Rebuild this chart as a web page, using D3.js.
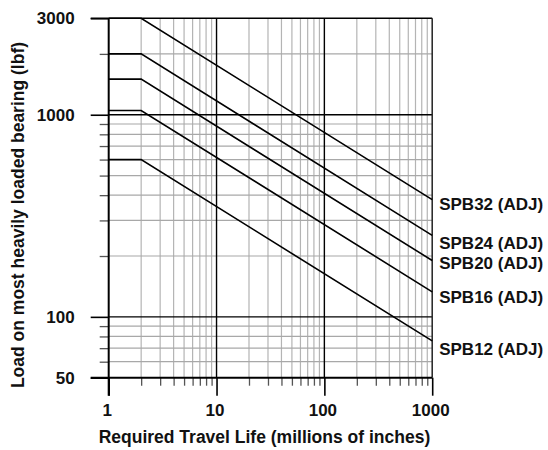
<!DOCTYPE html>
<html>
<head>
<meta charset="utf-8">
<script src="https://cdn.jsdelivr.net/npm/d3@7"></script>
<style>
  html, body { margin: 0; padding: 0; background: #fff; }
  svg { display: block; }
  text { font-family: "Liberation Sans", Arial, sans-serif; font-weight: bold; fill: #111; }
</style>
</head>
<body>
<svg id="chart" width="548" height="450"></svg>
<script>
// ---- data ----
const seriesNames = ["SPB32 (ADJ)", "SPB24 (ADJ)", "SPB20 (ADJ)", "SPB16 (ADJ)", "SPB12 (ADJ)"];
const travelLife = [1, 2, 1000];            // millions of inches
const loadSPB32 = [3000, 3000, 380];        // lbf
const loadSPB24 = [2000, 2000, 253];
const loadSPB20 = [1500, 1500, 190];
const loadSPB16 = [1050, 1050, 133];
const loadSPB12 = [600, 600, 76];
const xMajorTicks = [1, 10, 100, 1000];
const xMinorTicks = [2, 3, 4, 5, 6, 7, 8, 9, 20, 30, 40, 50, 60, 70, 80, 90, 200, 300, 400, 500, 600, 700, 800, 900];
const yMajorTicks = [3000, 1000, 100, 50];
const yMinorTicks = [2000, 900, 800, 700, 600, 500, 400, 300, 200, 90, 80, 70, 60];
const xTitle = "Required Travel Life (millions of inches)";
const yTitle = "Load on most heavily loaded bearing (lbf)";

const allSeries = [loadSPB32, loadSPB24, loadSPB20, loadSPB16, loadSPB12];
const labelDy = [10, 14, 8, 11, 14];

// ---- layout ----
const svg = d3.select("#chart");
const x = d3.scaleLog().domain([1, 1000]).range([108.7, 432.2]);
const y = d3.scaleLog().domain([50, 3000]).range([377.7, 18.3]);
const [x0, x1] = x.range();
const [yb, yt] = y.range();

// gridlines: minor
const grid = svg.append("g");
grid.selectAll("line.vmin").data(xMinorTicks).join("line")
  .attr("x1", d => x(d)).attr("x2", d => x(d)).attr("y1", yt).attr("y2", yb)
  .attr("stroke", "#b4b4b4").attr("stroke-width", 1.2);
grid.selectAll("line.hmin").data(yMinorTicks).join("line")
  .attr("x1", x0).attr("x2", x1).attr("y1", d => y(d)).attr("y2", d => y(d))
  .attr("stroke", "#a8a8a8").attr("stroke-width", 1.2);
// gridlines: major
grid.selectAll("line.vmaj").data([10, 100]).join("line")
  .attr("x1", d => x(d)).attr("x2", d => x(d)).attr("y1", yt).attr("y2", yb)
  .attr("stroke", "#000").attr("stroke-width", 1.4);
grid.selectAll("line.hmaj").data([1000, 100]).join("line")
  .attr("x1", x0).attr("x2", x1).attr("y1", d => y(d)).attr("y2", d => y(d))
  .attr("stroke", "#000").attr("stroke-width", 1.4);

// axes
const fmt = d3.format("d");
const yAxisMinor = svg.append("g").attr("transform", `translate(${x0},0)`)
  .call(d3.axisLeft(y).tickValues(yMinorTicks).tickSize(9).tickFormat(""));
const yAxis = svg.append("g").attr("transform", `translate(${x0},0)`)
  .call(d3.axisLeft(y).tickValues(yMajorTicks).tickSize(18).tickPadding(16).tickFormat(fmt));
const xAxisMinor = svg.append("g").attr("transform", `translate(0,${yb})`)
  .call(d3.axisBottom(x).tickValues(xMinorTicks).tickSize(8).tickFormat(""));
const xAxis = svg.append("g").attr("transform", `translate(0,${yb})`)
  .call(d3.axisBottom(x).tickValues(xMajorTicks).tickSize(18).tickPadding(8).tickFormat(fmt));

[yAxisMinor, yAxis, xAxisMinor, xAxis].forEach(g => g.select(".domain").remove());
yAxisMinor.selectAll("line").attr("stroke", "#555").attr("stroke-width", 1.3);
xAxisMinor.selectAll("line").attr("stroke", "#555").attr("stroke-width", 1.3);
yAxis.selectAll("line").attr("stroke", "#000").attr("stroke-width", 1.6);
xAxis.selectAll("line").attr("stroke", "#000").attr("stroke-width", 1.6);
yAxis.selectAll("text").attr("font-size", 17).attr("font-family", "Liberation Sans, Arial, sans-serif").attr("font-weight", "bold").attr("fill", "#111");
xAxis.selectAll("text").attr("font-size", 17).attr("font-family", "Liberation Sans, Arial, sans-serif").attr("font-weight", "bold").attr("fill", "#111").attr("dx", -2);

// frame
svg.append("line").attr("x1", x0 - 18).attr("x2", x1).attr("y1", yt).attr("y2", yt).attr("stroke", "#000").attr("stroke-width", 1.6);
svg.append("line").attr("x1", x1).attr("x2", x1).attr("y1", yt).attr("y2", yb).attr("stroke", "#222").attr("stroke-width", 1.5);
svg.append("line").attr("x1", x0).attr("x2", x0).attr("y1", yt).attr("y2", yb + 18).attr("stroke", "#000").attr("stroke-width", 2);
svg.append("line").attr("x1", x0 - 18).attr("x2", x1).attr("y1", yb).attr("y2", yb).attr("stroke", "#000").attr("stroke-width", 2);

// series lines
const line = d3.line().x((d, i) => x(travelLife[i])).y(d => y(d));
svg.selectAll("path.series").data(allSeries).join("path")
  .attr("class", "series")
  .attr("d", d => line(d))
  .attr("fill", "none").attr("stroke", "#000").attr("stroke-width", 1.6);

// series labels
svg.selectAll("text.lbl").data(allSeries).join("text")
  .attr("class", "lbl")
  .attr("x", x1 + 7)
  .attr("y", (d, i) => y(d[d.length - 1]) + labelDy[i])
  .attr("font-size", 17)
  .text((d, i) => seriesNames[i]);

// titles
svg.append("text").attr("x", (x0 + x1) / 2 - 6).attr("y", 443).attr("text-anchor", "middle")
  .attr("font-size", 17.5).text(xTitle);
svg.append("text").attr("transform", "translate(24,215) rotate(-90)").attr("text-anchor", "middle")
  .attr("font-size", 17.5).text(yTitle);
</script>
</body>
</html>
